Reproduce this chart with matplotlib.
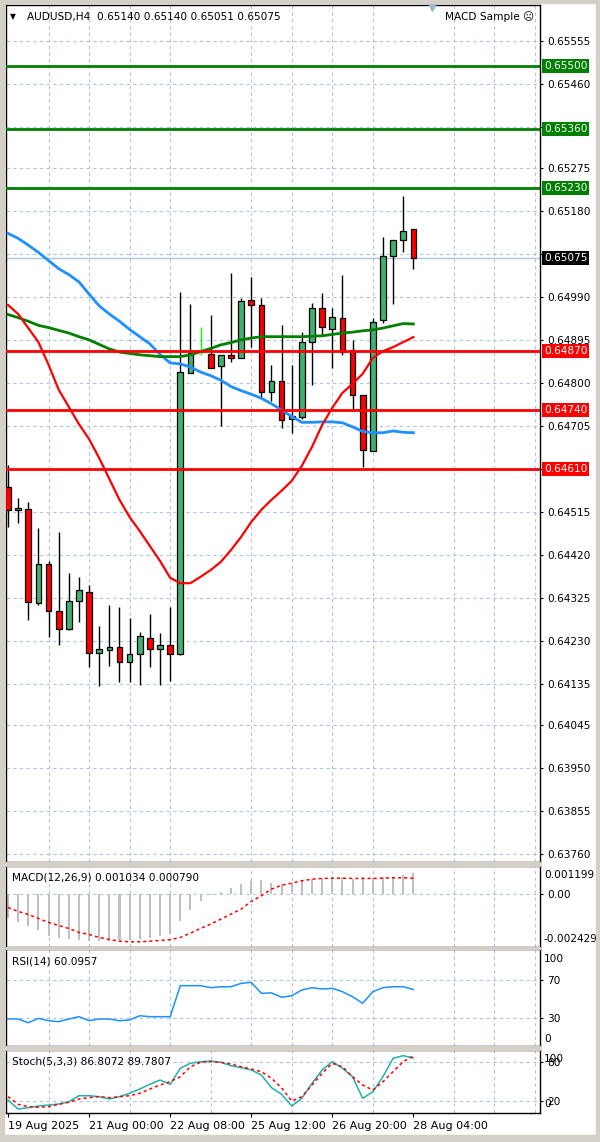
import matplotlib
matplotlib.use('Agg')
import matplotlib.pyplot as plt
import matplotlib.transforms as mtransforms
from matplotlib.patches import Rectangle
import numpy as np

plt.rcParams['font.family'] = ['DejaVu Sans']

W, H = 600, 1142

### H4 bars, 19 Aug 16:00 .. 28 Aug 04:00
opens = [0.64571, 0.64519, 0.64521, 0.64314, 0.64400, 0.64297, 0.64257, 0.64319, 0.64339, 0.64205,
         0.64211, 0.64218, 0.64183, 0.64202, 0.64238, 0.64213, 0.64221, 0.64202, 0.64821, 0.64868,
         0.64864, 0.64837, 0.64862, 0.64854, 0.64983, 0.64972, 0.64779, 0.64804, 0.64720, 0.64725,
         0.64891, 0.64965, 0.64919, 0.64943, 0.64873, 0.64773, 0.64650, 0.64939, 0.65079, 0.65115,
         0.65140]
highs = [0.64619, 0.64547, 0.64538, 0.64479, 0.64406, 0.64472, 0.64380, 0.64371, 0.64355, 0.64264,
         0.64310, 0.64306, 0.64281, 0.64251, 0.64290, 0.64247, 0.64306, 0.65001, 0.64974, 0.64924,
         0.64950, 0.64862, 0.65043, 0.64987, 0.65034, 0.64987, 0.64840, 0.64928, 0.64840, 0.64913,
         0.64976, 0.64998, 0.64965, 0.65038, 0.64895, 0.64773, 0.64943, 0.65121, 0.65115, 0.65212,
         0.65140]
lows = [0.64483, 0.64490, 0.64277, 0.64310, 0.64240, 0.64222, 0.64255, 0.64273, 0.64172, 0.64131,
        0.64176, 0.64139, 0.64139, 0.64133, 0.64172, 0.64133, 0.64143, 0.64200, 0.64821, 0.64862,
        0.64832, 0.64705, 0.64847, 0.64854, 0.64880, 0.64766, 0.64759, 0.64700, 0.64689, 0.64720,
        0.64795, 0.64906, 0.64834, 0.64862, 0.64737, 0.64614, 0.64650, 0.64932, 0.64974, 0.65090,
        0.65051]
closes = [0.64520, 0.64523, 0.64317, 0.64400, 0.64297, 0.64258, 0.64319, 0.64342, 0.64205, 0.64213,
          0.64218, 0.64183, 0.64202, 0.64241, 0.64213, 0.64221, 0.64202, 0.64825, 0.64865, 0.64868,
          0.64834, 0.64862, 0.64854, 0.64981, 0.64972, 0.64781, 0.64804, 0.64718, 0.64727, 0.64891,
          0.64965, 0.64924, 0.64945, 0.64869, 0.64773, 0.64653, 0.64935, 0.65079, 0.65115, 0.65135,
          0.65075]

### moving averages
ma_blue = [0.65130, 0.65119, 0.65104, 0.65088, 0.65070, 0.65052, 0.65039, 0.65023, 0.64996, 0.64970,
           0.64952, 0.64936, 0.64918, 0.64902, 0.64886, 0.64863, 0.64844, 0.64842, 0.64835, 0.64824,
           0.64816, 0.64806, 0.64792, 0.64783, 0.64775, 0.64766, 0.64754, 0.64740, 0.64726, 0.64713,
           0.64713, 0.64714, 0.64714, 0.64712, 0.64703, 0.64693, 0.64690, 0.64690, 0.64694, 0.64691,
           0.64690]
ma_green = [0.64951, 0.64944, 0.64936, 0.64927, 0.64922, 0.64916, 0.64910, 0.64902, 0.64895, 0.64885,
            0.64875, 0.64868, 0.64865, 0.64862, 0.64860, 0.64858, 0.64858, 0.64858, 0.64862, 0.64869,
            0.64876, 0.64884, 0.64889, 0.64895, 0.64899, 0.64902, 0.64902, 0.64902, 0.64902, 0.64902,
            0.64903, 0.64904, 0.64907, 0.64910, 0.64912, 0.64915, 0.64917, 0.64921, 0.64926, 0.64931,
            0.64930]
ma_red = [0.64972, 0.64952, 0.64921, 0.64890, 0.64840, 0.64785, 0.64747, 0.64709, 0.64676, 0.64634,
          0.64588, 0.64542, 0.64504, 0.64473, 0.64440, 0.64407, 0.64370, 0.64358, 0.64358, 0.64372,
          0.64387, 0.64405, 0.64431, 0.64460, 0.64493, 0.64520, 0.64542, 0.64562, 0.64584, 0.64617,
          0.64659, 0.64707, 0.64745, 0.64778, 0.64798, 0.64820, 0.64855, 0.64870, 0.64879, 0.64890,
          0.64901]

### MACD(12,26,9)
macd_main = [-0.001177, -0.001373, -0.001569, -0.001765, -0.002059, -0.002157, -0.002206, -0.002255,
             -0.002304, -0.002304, -0.002304, -0.002255, -0.002255, -0.002206, -0.002157, -0.002059,
             -0.001961, -0.001324, -0.000784, -0.000343, -0.000049, 0.000098, 0.000294, 0.000490,
             0.000637, 0.000686, 0.000560, 0.000500, 0.000550, 0.000686, 0.000735, 0.000784,
             0.000833, 0.000833, 0.000735, 0.000833, 0.000784, 0.000833, 0.000833, 0.000932,
             0.001034]
macd_signal = [-0.000637, -0.000833, -0.000981, -0.001177, -0.001373, -0.001520, -0.001667, -0.001863,
               -0.001961, -0.002108, -0.002206, -0.002290, -0.002319, -0.002319, -0.002290, -0.002255,
               -0.002221, -0.002108, -0.001897, -0.001667, -0.001456, -0.001211, -0.000966, -0.000721,
               -0.000343, -0.000064, 0.000260, 0.000456, 0.000554, 0.000672, 0.000750, 0.000784,
               0.000799, 0.000799, 0.000784, 0.000784, 0.000784, 0.000799, 0.000820, 0.000820,
               0.000790]

### RSI(14)
rsi = [29.3, 29.3, 25.4, 30.0, 27.5, 26.5, 29.3, 31.7, 27.5, 29.3,
       29.3, 27.5, 28.3, 32.7, 31.7, 31.7, 31.7, 64.1, 64.1, 64.1,
       62.0, 63.0, 63.0, 66.5, 67.6, 56.1, 56.6, 52.0, 53.6, 59.6,
       62.0, 60.6, 61.3, 57.8, 52.6, 45.7, 57.8, 62.0, 63.0, 63.0,
       60.1]

### Stoch(5,3,3)
stoch_k = [21.1, 7.0, 9.1, 11.7, 13.3, 14.8, 18.4, 27.8, 27.8, 26.3,
           22.7, 26.3, 31.6, 38.3, 45.6, 52.3, 45.6, 70.6, 78.4, 80.9,
           82.0, 80.0, 74.7, 71.6, 68.0, 60.2, 40.3, 30.0, 11.7, 23.7,
           47.2, 68.0, 81.0, 70.6, 57.5, 23.7, 34.0, 57.5, 86.2, 90.3,
           86.8]
stoch_d = [26.3, 14.4, 10.6, 9.7, 10.6, 14.4, 17.5, 22.7, 24.7, 26.3,
           24.7, 26.3, 27.8, 31.6, 38.3, 44.5, 49.7, 57.5, 73.1, 80.0,
           81.0, 80.0, 77.3, 73.1, 69.5, 65.3, 55.0, 40.0, 19.5, 26.3,
           44.5, 62.8, 78.4, 73.1, 57.5, 44.5, 36.7, 49.7, 65.3, 81.0,
           89.8]

green_levels = [0.65500, 0.65360, 0.65230]
red_levels = [0.64870, 0.64740, 0.64610]

price_ticks = [0.65555, 0.65460, 0.65365, 0.65275, 0.65180, 0.65085, 0.64990, 0.64895, 0.64800,
               0.64705, 0.64610, 0.64515, 0.64420, 0.64325, 0.64230, 0.64135, 0.64045, 0.63950,
               0.63855, 0.63760]
hidden_ticks = [0.65365, 0.65085, 0.64610]

date_ticks = [0, 8, 16, 24, 32, 40]
date_labels = ['19 Aug 2025', '21 Aug 00:00', '22 Aug 08:00', '25 Aug 12:00', '26 Aug 20:00',
               '28 Aug 04:00']

GRID = '#B0C4DE'
BULL = '#3CB371'
FS = 7.6


def panel(top, bottom, left=6, right=540):
    return [left / W, 1 - bottom / H, (right - left) / W, (bottom - top) / H]


def style(ax):
    ax.set_xlim(-0.2, 52.5)
    ax.set_xticks(np.arange(4, 53, 4), minor=True)
    ax.grid(True, which='minor', axis='x', color=GRID, ls=(0, (3, 3)), lw=0.8)
    ax.tick_params(axis='x', which='both', bottom=False, labelbottom=False)
    ax.yaxis.tick_right()
    ax.tick_params(axis='y', direction='out', length=2.5, width=0.8, pad=2.5,
                   labelsize=FS, colors='black')
    for s in ax.spines.values():
        s.set_color('black')
        s.set_linewidth(1)


fig = plt.figure(figsize=(W / 100, H / 100), dpi=100)
fig.patch.set_facecolor('white')

### window frame and panel gaps
for x0, y0, w, h in [(0, 0, 4, H), (0, 0, W, 3), (0, 1135, W, 7), (596, 0, 4, H),
                     (6, 862, 534, 4), (6, 947, 534, 2), (6, 1046, 534, 4)]:
    fig.patches.append(Rectangle((x0 / W, 1 - (y0 + h) / H), w / W, h / H,
                                 transform=fig.transFigure, color='#D4D0C8', zorder=0))

x = np.arange(len(opens))
o = np.array(opens)
c = np.array(closes)

### main chart
ax = fig.add_axes(panel(5, 862))
style(ax)
ax.set_ylim(0.637427, 0.65634)
ax.set_yticks(price_ticks)
ax.set_yticklabels(['' if t in hidden_ticks else '%.5f' % t for t in price_ticks])
ax.grid(True, axis='y', color=GRID, ls=(0, (3, 3)), lw=0.8)
ax.set_axisbelow(True)

doji = o == c
wick_col = np.where(doji, '#00FF00', 'black')
ax.vlines(x, lows, highs, colors=wick_col, lw=1, zorder=2)
body_col = np.where(c > o, BULL, '#FF0000')
ax.bar(x[~doji], np.abs(c - o)[~doji], bottom=np.minimum(o, c)[~doji], width=0.56,
       color=body_col[~doji], edgecolor='black', linewidth=0.9, zorder=3)
ax.hlines(o[doji], x[doji] - 0.28, x[doji] + 0.28, colors='#00FF00', lw=1, zorder=3)

ax.axhline(closes[-1], color=GRID, lw=1, zorder=1)
ax.plot(x, ma_blue, color='#1E90FF', lw=2, zorder=4)
ax.plot(x, ma_green, color='#008000', lw=2, zorder=4)
ax.plot(x, ma_red, color='#FF0000', lw=1.6, zorder=4)

trans = mtransforms.blended_transform_factory(ax.transAxes, ax.transData)
for lv in green_levels:
    ax.axhline(lv, color='#008000', lw=2, zorder=5)
    ax.text(1.0071, lv, '%.5f' % lv, transform=trans, color='white', fontsize=FS,
            va='center', ha='left', clip_on=False,
            bbox=dict(boxstyle='square,pad=0.2', fc='#008000', ec='none'))
for lv in red_levels:
    ax.axhline(lv, color='#FF0000', lw=2, zorder=5)
    ax.text(1.0071, lv, '%.5f' % lv, transform=trans, color='white', fontsize=FS,
            va='center', ha='left', clip_on=False,
            bbox=dict(boxstyle='square,pad=0.2', fc='#FF0000', ec='none'))
ax.text(1.0071, closes[-1], '%.5f' % closes[-1], transform=trans, color='white', fontsize=FS,
        va='center', ha='left', clip_on=False,
        bbox=dict(boxstyle='square,pad=0.2', fc='black', ec='none'))

ax.text(0.008, 0.986, '\u25bc', transform=ax.transAxes, fontsize=5.5, va='center', ha='left')
ax.text(0.0393, 0.986, 'AUDUSD,H4  %.5f %.5f %.5f %.5f' % (opens[-1], highs[-1], lows[-1], closes[-1]),
        transform=ax.transAxes, fontsize=FS, va='center', ha='left')
ax.text(0.989, 0.986, 'MACD Sample \u2639', transform=ax.transAxes, fontsize=FS,
        va='center', ha='right')
ax.plot([0.797], [0.999], marker='v', ms=7, color='#9DB3CF', transform=ax.transAxes,
        clip_on=False, zorder=6)

### MACD panel
axm = fig.add_axes(panel(866, 947))
style(axm)
axm.set_ylim(-0.002576, 0.001395)
axm.set_yticks([0.0])
axm.set_yticklabels(['0.00'])
axm.grid(True, axis='y', color=GRID, ls=(0, (3, 3)), lw=0.8)
axm.set_axisbelow(True)
axm.bar(x, macd_main, width=0.2, color='#C0C0C0', zorder=2)
axm.plot(x, macd_signal, color='#FF0000', lw=1.1, ls=(0, (2, 2)), zorder=3)
axm.text(1.0071, 0.889, '0.001199', transform=axm.transAxes, fontsize=FS, va='center')
axm.text(1.0071, 0.099, '-0.002429', transform=axm.transAxes, fontsize=FS, va='center')
axm.text(0.0112, 0.864, 'MACD(12,26,9) %.6f %.6f' % (macd_main[-1], macd_signal[-1]),
         transform=axm.transAxes, fontsize=FS, va='center')

### RSI panel
axr = fig.add_axes(panel(949, 1046))
style(axr)
axr.set_ylim(1.1, 102.4)
axr.set_yticks([30, 70])
axr.set_yticklabels(['30', '70'])
axr.grid(True, axis='y', color=GRID, ls=(0, (3, 3)), lw=0.8)
axr.set_axisbelow(True)
axr.plot(x, rsi, color='#1E90FF', lw=1.1)
axr.text(1.0071, 0.897, '100', transform=axr.transAxes, fontsize=FS, va='center')
axr.text(1.0071, 0.072, '0', transform=axr.transAxes, fontsize=FS, va='center')
axr.text(0.0112, 0.876, 'RSI(14) 60.0957', transform=axr.transAxes, fontsize=FS, va='center')

### Stochastic panel
axs = fig.add_axes(panel(1050, 1113))
style(axs)
axs.set_ylim(0.8, 99.2)
axs.set_yticks([20, 80])
axs.set_yticklabels(['20', '80'])
axs.grid(True, axis='y', color=GRID, ls=(0, (3, 3)), lw=0.8)
axs.set_axisbelow(True)
axs.plot(x, stoch_k, color='#20B2AA', lw=1.1, zorder=3)
axs.plot(x, stoch_d, color='#FF0000', lw=1.1, ls=(0, (2, 2)), zorder=3)
axs.text(1.0071, 0.857, '100', transform=axs.transAxes, fontsize=FS, va='center')
axs.text(1.0071, 0.143, '0', transform=axs.transAxes, fontsize=FS, va='center')
axs.text(0.0112, 0.81, 'Stoch(5,3,3) 86.8072 89.7807', transform=axs.transAxes,
         fontsize=FS, va='center')
axs.set_xticks(date_ticks)
axs.set_xticklabels(date_labels)
axs.tick_params(axis='x', which='major', bottom=True, labelbottom=True, direction='out',
                length=3, width=0.8, pad=3, labelsize=8)
for lab in axs.get_xticklabels():
    lab.set_ha('left')
    lab.set_x(lab.get_position()[0])

fig.savefig('out.png', dpi=100, facecolor='white')
